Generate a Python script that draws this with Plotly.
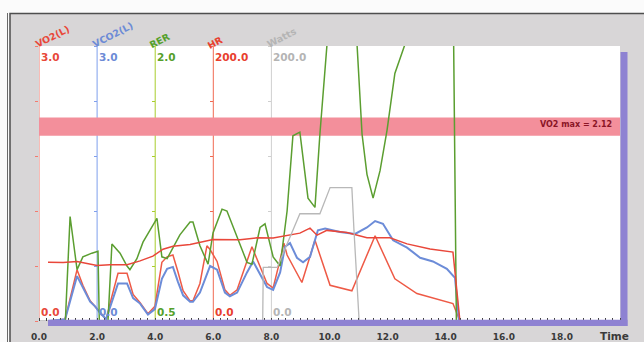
import math
import plotly.graph_objects as go

# ---- breath-by-breath channels: time (min) and value ----
vo2_t = [0.34, 0.90, 1.31, 1.51, 1.76, 1.93, 2.10, 2.31, 2.51, 2.72, 3.03, 3.24, 3.48, 3.75, 3.99,
         4.23, 4.41, 4.61, 4.78, 4.96, 5.20, 5.30, 5.54, 5.78, 5.89, 6.13, 6.40, 6.57, 6.82, 7.16,
         7.33, 7.85, 8.06, 8.30, 8.43, 8.54, 9.05, 9.50, 10.02, 10.77, 11.57, 12.25, 13.01, 14.25, 14.49]
vo2 = [0.0, 0.02, 0.56, 0.39, 0.22, 0.16, 0.09, 0.02, 0.27, 0.52, 0.52, 0.29, 0.20, 0.08, 0.16,
       0.64, 0.70, 0.72, 0.54, 0.33, 0.22, 0.22, 0.41, 0.82, 0.78, 0.65, 0.34, 0.28, 0.34, 0.65,
       0.81, 0.41, 0.36, 0.67, 0.85, 0.72, 0.42, 0.88, 0.39, 0.33, 0.93, 0.46, 0.30, 0.19, 0.0]

vco2_t = [0.34, 0.90, 1.31, 1.51, 1.76, 1.93, 2.10, 2.31, 2.51, 2.72, 3.03, 3.24, 3.48, 3.75, 3.99,
          4.23, 4.41, 4.61, 4.78, 4.96, 5.20, 5.30, 5.54, 5.89, 6.13, 6.40, 6.57, 6.82, 7.16, 7.37,
          7.85, 8.06, 8.30, 8.47, 8.64, 8.88, 9.09, 9.33, 9.60, 9.85, 10.36, 10.88, 11.29, 11.57,
          11.84, 12.19, 12.67, 13.12, 13.56, 14.04, 14.32, 14.46]
vco2 = [0.0, 0.02, 0.49, 0.36, 0.21, 0.16, 0.09, 0.02, 0.21, 0.41, 0.41, 0.25, 0.19, 0.07, 0.13,
        0.46, 0.57, 0.59, 0.43, 0.28, 0.21, 0.21, 0.31, 0.60, 0.56, 0.31, 0.27, 0.31, 0.53, 0.65,
        0.37, 0.34, 0.53, 0.81, 0.85, 0.69, 0.64, 0.70, 0.99, 1.01, 0.97, 0.95, 1.02, 1.09,
        1.06, 0.88, 0.80, 0.69, 0.65, 0.57, 0.47, 0.0]

rer_t = [0.85, 1.07, 1.31, 1.51, 1.82, 2.03, 2.10, 2.31, 2.51, 2.79, 3.03, 3.13, 3.37, 3.58, 4.06,
         4.23, 4.41, 4.85, 5.20, 5.30, 5.54, 5.82, 5.99, 6.30, 6.47, 6.82, 7.16, 7.33, 7.61, 7.78,
         8.06, 8.30, 8.54, 8.74, 8.98, 9.26, 9.50, 9.67, 10.52, 11.12, 11.29, 11.50, 11.74, 11.98,
         12.25, 12.60, 13.20, 14.20, 14.38]
rer = [0.30, 1.07, 0.78, 0.85, 0.87, 0.88, 0.30, 0.30, 0.92, 0.87, 0.80, 0.78, 0.84, 0.93, 1.06,
       0.85, 0.84, 0.97, 1.04, 1.04, 0.91, 0.81, 0.98, 1.11, 1.10, 0.96, 0.82, 0.81, 1.01, 1.03,
       0.85, 0.80, 1.10, 1.51, 1.53, 1.17, 1.12, 1.52, 3.22, 1.52, 1.30, 1.17, 1.32, 1.54,
       1.85, 2.01, 3.20, 3.20, 0.30]

hr_t = [0.31, 0.83, 1.31, 2.00, 2.44, 3.03, 3.48, 3.92, 4.27, 4.61, 5.20, 5.54, 5.99, 6.92,
        7.50, 8.06, 8.54, 8.98, 9.33, 9.57, 9.91, 10.60, 11.29, 12.08, 12.67, 13.46, 14.25, 14.49]
hr = [42.7, 42.6, 43.3, 40.3, 40.9, 40.9, 43.7, 47.2, 52.2, 54.4, 55.7, 57.2, 59.3, 59.1,
      60.5, 60.4, 62.5, 63.9, 67.5, 62.4, 65.9, 64.3, 60.6, 60.5, 56.1, 52.4, 50.1, 0.0]

watts_t = [0.0, 7.70, 7.72, 8.20, 8.98, 9.67, 10.02, 10.77, 10.84, 11.02, 14.5]
watts = [0, 0, 39, 39, 78, 78, 97, 97, 67, 0, 0]

vo2_max = 2.12

# ---- axes ----
time_ticks = [0, 2, 4, 6, 8, 10, 12, 14, 16, 18]
time_tick_text = ["0.0", "2.0", "4.0", "6.0", "8.0", "10.0", "12.0", "14.0", "16.0", "18.0"]

axis_names = ["VO2(L)", "VCO2(L)", "RER", "HR", "Watts"]
axis_at = [0, 2, 4, 6, 8]            # time position of each value axis
axis_lo = [0.0, 0.0, 0.5, 0.0, 0.0]
axis_hi = [3.0, 3.0, 2.0, 200.0, 200.0]
axis_lo_text = ["0.0", "0.0", "0.5", "0.0", "0.0"]
axis_hi_text = ["3.0", "3.0", "2.0", "200.0", "200.0"]

label_colors = ["#e8483a", "#6c8bd6", "#55a02a", "#e8402e", "#b4b4b4"]
line_colors = ["#ee5a46", "#6c8cd8", "#5b9e30", "#e9473a", "#b8b8b8"]
axis_line_colors = ["#f27a6e", "#7f9fec", "#a9cd2c", "#f06a52", "#cfcfcf"]

series = [(vo2_t, vo2), (vco2_t, vco2), (rer_t, rer), (hr_t, hr), (watts_t, watts)]
widths = [1.5, 2.0, 1.5, 1.5, 1.3]

W, H = 644, 342
L, R, T, B = 39, 24, 46, 21
PW, PH = W - L - R, H - T - B


def fx(px):
    return (px - L) / PW


def fy(py):
    return (H - B - py) / PH


fig = go.Figure()
for i, (tx, vy) in enumerate(series):
    fig.add_trace(go.Scatter(
        x=tx, y=vy, mode="lines", name=axis_names[i],
        yaxis="y" if i == 0 else f"y{i + 1}",
        line=dict(color=line_colors[i], width=widths[i]),
        hoverinfo="skip",
    ))

layout_axes = {}
for i in range(5):
    key = "yaxis" if i == 0 else f"yaxis{i + 1}"
    span = axis_hi[i] - axis_lo[i]
    ax = dict(
        range=[axis_lo[i], axis_hi[i]], tick0=axis_lo[i], dtick=span / 5,
        showgrid=False, zeroline=False, showline=False,
        ticks="outside", ticklen=3, tickwidth=1,
        tickcolor=axis_line_colors[i], showticklabels=False, layer="below traces",
        domain=[0, 1],
    )
    if i == 0:
        ax["anchor"] = "x"
    else:
        ax.update(overlaying="y", anchor="free", position=axis_at[i] / 20)
    layout_axes[key] = ax

annotations = []
ang = 27
for i in range(5):
    # value limits beside each axis line
    annotations.append(dict(
        x=axis_at[i], xref="x", y=1, yref="paper", text=axis_hi_text[i],
        showarrow=False, xanchor="left", yanchor="top", xshift=0, yshift=-3,
        font=dict(size=10.5, color=label_colors[i], family="DejaVu Sans", weight="bold"),
    ))
    annotations.append(dict(
        x=axis_at[i], xref="x", y=0, yref="paper", text=axis_lo_text[i],
        showarrow=False, xanchor="left", yanchor="bottom", xshift=0, yshift=1,
        font=dict(size=10.5, color=label_colors[i], family="DejaVu Sans", weight="bold"),
    ))
    # slanted channel name above the plot
    half = len(axis_names[i]) * 6.4 / 2
    annotations.append(dict(
        x=axis_at[i], xref="x", y=1, yref="paper", text=axis_names[i],
        showarrow=False, xanchor="center", yanchor="middle", textangle=-ang,
        xshift=half * math.cos(math.radians(ang)) - 4,
        yshift=half * math.sin(math.radians(ang)) + 1,
        font=dict(size=9.5, color=label_colors[i], family="DejaVu Sans", weight="bold"),
    ))

annotations.append(dict(
    x=fx(614), xref="paper", y=vo2_max, yref="y", text="VO2 max = 2.12",
    showarrow=False, xanchor="right", yanchor="middle", yshift=2,
    font=dict(size=8, color="#8a1526", family="DejaVu Sans", weight="bold"),
))
annotations.append(dict(
    x=fx(614), xref="paper", y=fy(336), yref="paper", text="Time",
    showarrow=False, xanchor="center", yanchor="middle",
    font=dict(size=10.5, color="#3a3a3a", family="DejaVu Sans", weight="bold"),
))

purple = "#8e82d2"
shapes = [
    # grey panel with dark frame
    dict(type="rect", xref="paper", yref="paper", x0=fx(10), x1=fx(660), y0=fy(360), y1=fy(13.5),
         fillcolor="#d8d6d7", line=dict(color="#4e4e4e", width=1.5), layer="below"),
    dict(type="line", xref="paper", yref="paper", x0=fx(7.5), x1=fx(7.5), y0=fy(360), y1=fy(13),
         line=dict(color="#6a6a6a", width=1), layer="below"),
    # white plotting field
    dict(type="rect", xref="paper", yref="paper", x0=0, x1=1, y0=0, y1=1,
         fillcolor="white", line=dict(width=0), layer="below"),
    # VO2 max band
    dict(type="rect", xref="x", yref="y", x0=0, x1=20, y0=vo2_max - 0.1, y1=vo2_max + 0.1,
         fillcolor="#f38f9b", line=dict(width=0), layer="below"),
    # purple frame bars
    dict(type="rect", xref="paper", yref="paper", x0=fx(620.5), x1=fx(627.5), y0=fy(326), y1=fy(52),
         fillcolor=purple, line=dict(width=0), layer="below"),
    dict(type="rect", xref="paper", yref="paper", x0=fx(48), x1=fx(627.5), y0=fy(326), y1=fy(319.8),
         fillcolor=purple, line=dict(width=0), layer="above"),
]
# coloured value-axis spines
for i in range(5):
    shapes.append(dict(type="line", xref="x", yref="paper", x0=axis_at[i], x1=axis_at[i],
                       y0=0, y1=1, line=dict(color=axis_line_colors[i], width=1), layer="below"))

fig.update_layout(
    width=W, height=H, template="none",
    margin=dict(l=L, r=R, t=T, b=B, pad=0),
    paper_bgcolor="#fbfbfb", plot_bgcolor="white", showlegend=False,
    font=dict(family="DejaVu Sans"),
    xaxis=dict(
        range=[0, 20], domain=[0, 1], showgrid=False, zeroline=False, showline=False,
        tickmode="array", tickvals=time_ticks, ticktext=time_tick_text, ticks="",
        tickfont=dict(size=9, color="#3a3a3a", family="DejaVu Sans", weight="bold"),
        ticklabelstandoff=9,
        minor=dict(tick0=0, dtick=0.25, ticks="inside", ticklen=3, tickwidth=1,
                   tickcolor="#444444", showgrid=False),
    ),
    annotations=annotations, shapes=shapes,
    **layout_axes,
)

fig.write_html("out.html")
